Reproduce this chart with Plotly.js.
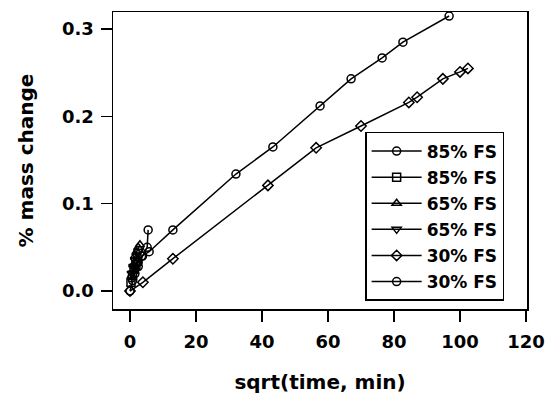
<!DOCTYPE html>
<html>
<head>
<meta charset="utf-8">
<script src="https://cdn.plot.ly/plotly-3.0.1.min.js"></script>
<style>html,body{margin:0;padding:0;background:#fff;}#chart{width:545px;height:398px;}</style>
</head>
<body>
<div id="chart"></div>
<script>
// Series names (legend labels)
const seriesNames = ["85% FS", "85% FS", "65% FS", "65% FS", "30% FS", "30% FS"];
const seriesSymbols = ["circle-open", "square-open", "triangle-up-open", "triangle-down-open", "diamond-open", "circle-open"];

// 85% FS (circles) - upper long series
const x85a = [0.5, 1.5, 2.5, 3.5, 5.8, 13.0, 32.1, 43.3, 57.6, 67.0, 76.4, 82.7, 96.7];
const y85a = [0.015, 0.025, 0.033, 0.040, 0.045, 0.070, 0.134, 0.165, 0.212, 0.243, 0.267, 0.285, 0.315];

// 85% FS (squares)
const x85b = [0.3, 0.8, 1.2, 1.8, 2.2];
const y85b = [0.010, 0.018, 0.025, 0.030, 0.034];

// 65% FS (triangle up)
const x65a = [1.0, 1.5, 2.0, 2.5, 3.0];
const y65a = [0.030, 0.040, 0.045, 0.050, 0.053];

// 65% FS (triangle down)
const x65b = [0.5, 1.0, 1.5, 2.0, 2.5];
const y65b = [0.020, 0.028, 0.035, 0.040, 0.045];

// 30% FS (diamonds) - lower long series
const x30a = [0.0, 3.9, 13.0, 41.8, 56.4, 70.0, 84.5, 87.0, 94.8, 100.0, 102.4];
const y30a = [0.000, 0.010, 0.037, 0.121, 0.164, 0.189, 0.216, 0.222, 0.243, 0.251, 0.255];

// 30% FS (circles)
const x30b = [0.0, 0.8, 1.5, 2.5, 3.8, 5.2, 5.5];
const y30b = [0.000, 0.012, 0.020, 0.028, 0.040, 0.050, 0.070];

// Axis ticks
const xTicks = [0, 20, 40, 60, 80, 100, 120];
const yTicks = [0.0, 0.1, 0.2, 0.3];
const yTickText = ["0.0", "0.1", "0.2", "0.3"];

const xs = [x85a, x85b, x65a, x65b, x30a, x30b];
const ys = [y85a, y85b, y65a, y65b, y30a, y30b];

const traces = xs.map((x, i) => ({
  x: x, y: ys[i], name: seriesNames[i], type: "scatter", mode: "lines+markers",
  legendgroup: "g" + i,
  line: {color: "#000", width: 1.5},
  marker: {symbol: seriesSymbols[i], size: 8, color: "#000", line: {width: 1.5, color: "#000"}}
}));

const fontFam = "DejaVu Sans, sans-serif";
const layout = {
  width: 545, height: 398,
  margin: {l: 113, r: 18, t: 12, b: 89},
  paper_bgcolor: "#fff", plot_bgcolor: "#fff",
  font: {family: fontFam, color: "#000", size: 17, weight: "bold"},
  showlegend: true,
  legend: {
    x: 0.609, y: 0.596, xanchor: "left", yanchor: "top",
    bordercolor: "#000", borderwidth: 1.5, bgcolor: "#fff",
    font: {family: fontFam, size: 17, color: "#000", weight: "bold"},
    itemwidth: 50, tracegroupgap: 1
  },
  xaxis: {
    range: [-5.15, 120.3], tickvals: xTicks, ticktext: xTicks.map(String),
    ticks: "outside", ticklen: 11, tickwidth: 1.5, tickcolor: "#000",
    showline: true, linecolor: "#000", linewidth: 1.5, mirror: true,
    showgrid: false, zeroline: false, ticklabelstandoff: 5,
    tickfont: {family: fontFam, size: 18, color: "#000", weight: "bold"},
    title: {text: "sqrt(time, min)", font: {family: fontFam, size: 20, color: "#000", weight: "bold"}, standoff: 24}
  },
  yaxis: {
    range: [-0.0206, 0.3196], tickvals: yTicks, ticktext: yTickText,
    ticks: "outside", ticklen: 11, tickwidth: 1.5, tickcolor: "#000",
    showline: true, linecolor: "#000", linewidth: 1.5, mirror: true,
    showgrid: false, zeroline: false, ticklabelstandoff: 3,
    tickfont: {family: fontFam, size: 18, color: "#000", weight: "bold"},
    title: {text: "% mass change", font: {family: fontFam, size: 20, color: "#000", weight: "bold"}, standoff: 23}
  }
};

Plotly.newPlot("chart", traces, layout, {displayModeBar: false, staticPlot: true});
</script>
</body>
</html>
